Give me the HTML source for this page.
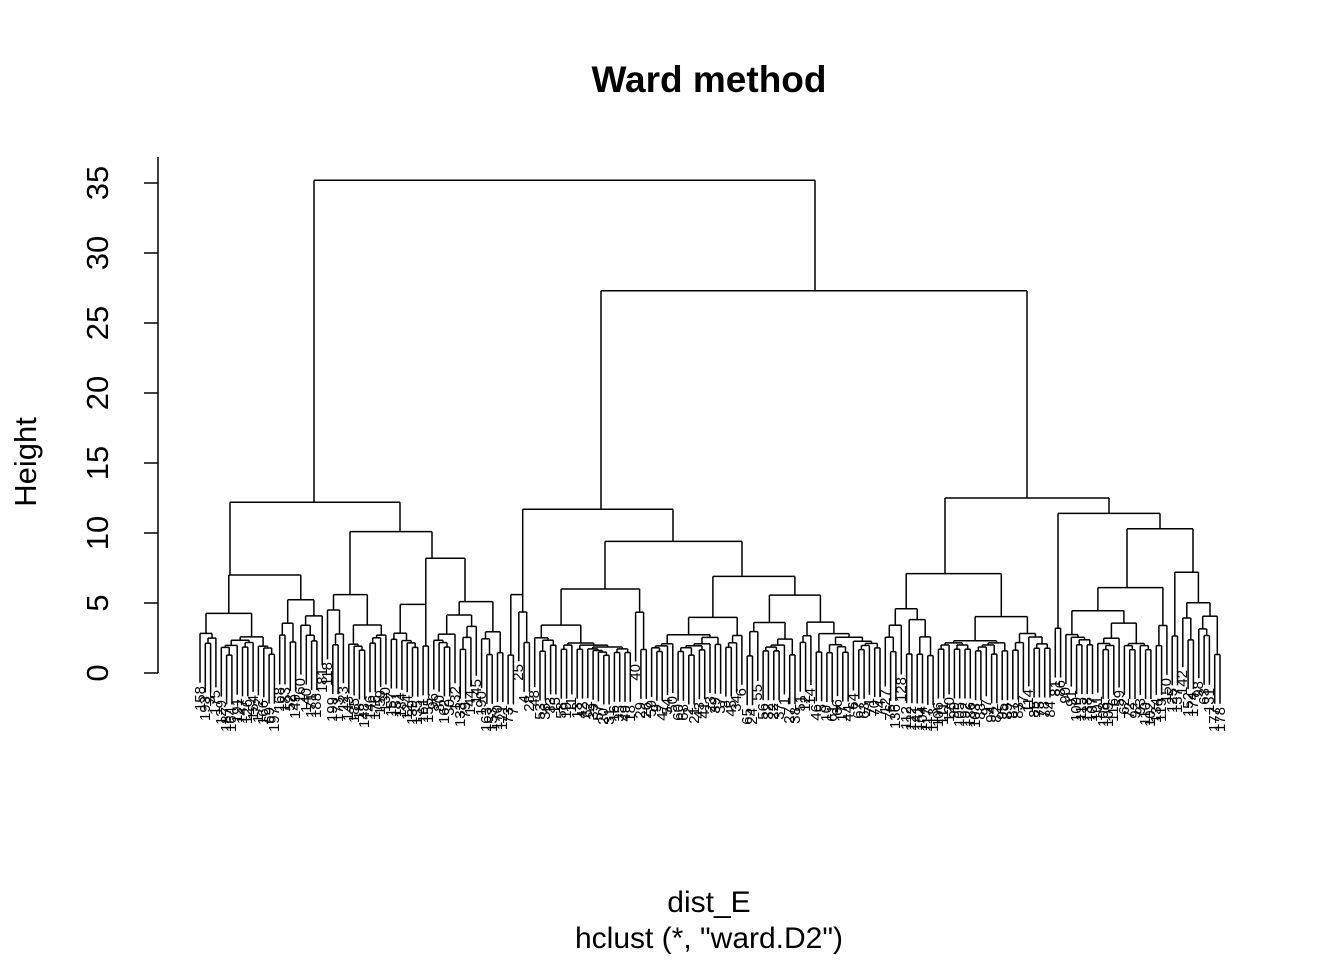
<!DOCTYPE html>
<html><head><meta charset="utf-8"><style>
html,body{margin:0;padding:0;background:#fff;}
#w{position:relative;width:1344px;height:960px;overflow:hidden;font-family:"Liberation Sans",sans-serif;}
svg{position:absolute;left:0;top:0;}
#labs span{position:absolute;font-size:15px;line-height:15px;width:15px;writing-mode:vertical-rl;transform:rotate(180deg);white-space:nowrap;color:#000;}
</style></head><body><div id="w">
<svg id="s" width="1344" height="960" xmlns="http://www.w3.org/2000/svg">
<g stroke="#000" stroke-width="1.5" fill="none">
<line x1="158" y1="673" x2="158" y2="157"/>
<line x1="144" y1="673" x2="158" y2="673"/><line x1="144" y1="603" x2="158" y2="603"/>
<line x1="144" y1="533" x2="158" y2="533"/><line x1="144" y1="463" x2="158" y2="463"/>
<line x1="144" y1="393" x2="158" y2="393"/><line x1="144" y1="323" x2="158" y2="323"/>
<line x1="144" y1="253" x2="158" y2="253"/><line x1="144" y1="183" x2="158" y2="183"/>
</g>
<g font-family="Liberation Sans, sans-serif" font-size="31" text-anchor="middle">
<text transform="translate(108,673) rotate(-90)">0</text>
<text transform="translate(108,603) rotate(-90)">5</text>
<text transform="translate(108,533) rotate(-90)">10</text>
<text transform="translate(108,463) rotate(-90)">15</text>
<text transform="translate(108,393) rotate(-90)">20</text>
<text transform="translate(108,323) rotate(-90)">25</text>
<text transform="translate(108,253) rotate(-90)">30</text>
<text transform="translate(108,183) rotate(-90)">35</text>
<text transform="translate(36,462) rotate(-90)">Height</text>
<text x="709" y="92" font-weight="bold" font-size="37">Ward method</text>
<text x="709" y="912" font-size="30">dist_E</text>
<text x="709" y="948" font-size="30">hclust (*, "ward.D2")</text>
</g>
<g id="tr" stroke="#000" stroke-width="1.5" fill="none"></g>
</svg>
<div id="labs"><span>158</span><span>193</span><span>3</span><span>175</span><span>129</span><span>187</span><span>164</span><span>191</span><span>147</span><span>126</span><span>154</span><span>172</span><span>166</span><span>69</span><span>197</span><span>168</span><span>183</span><span>52</span><span>149</span><span>160</span><span>140</span><span>171</span><span>188</span><span>181</span><span>118</span><span>199</span><span>173</span><span>123</span><span>143</span><span>185</span><span>18</span><span>148</span><span>146</span><span>176</span><span>159</span><span>130</span><span>157</span><span>151</span><span>184</span><span>124</span><span>139</span><span>135</span><span>161</span><span>155</span><span>96</span><span>80</span><span>162</span><span>30</span><span>132</span><span>133</span><span>79</span><span>144</span><span>145</span><span>190</span><span>163</span><span>153</span><span>170</span><span>121</span><span>73</span><span>7</span><span>25</span><span>4</span><span>28</span><span>48</span><span>53</span><span>36</span><span>33</span><span>15</span><span>58</span><span>19</span><span>11</span><span>13</span><span>42</span><span>62</span><span>39</span><span>57</span><span>20</span><span>31</span><span>16</span><span>35</span><span>49</span><span>18</span><span>40</span><span>29</span><span>26</span><span>59</span><span>9</span><span>47</span><span>54</span><span>50</span><span>60</span><span>68</span><span>2</span><span>21</span><span>43</span><span>41</span><span>23</span><span>39</span><span>37</span><span>8</span><span>45</span><span>34</span><span>6</span><span>65</span><span>24</span><span>55</span><span>56</span><span>32</span><span>22</span><span>37</span><span>1</span><span>27</span><span>38</span><span>51</span><span>12</span><span>14</span><span>46</span><span>5</span><span>10</span><span>61</span><span>66</span><span>17</span><span>44</span><span>64</span><span>67</span><span>63</span><span>71</span><span>70</span><span>74</span><span>127</span><span>76</span><span>136</span><span>128</span><span>112</span><span>122</span><span>141</span><span>104</span><span>117</span><span>113</span><span>106</span><span>111</span><span>120</span><span>99</span><span>105</span><span>192</span><span>186</span><span>103</span><span>88</span><span>97</span><span>94</span><span>82</span><span>95</span><span>89</span><span>87</span><span>83</span><span>77</span><span>114</span><span>85</span><span>75</span><span>78</span><span>84</span><span>81</span><span>86</span><span>90</span><span>91</span><span>100</span><span>115</span><span>138</span><span>107</span><span>101</span><span>108</span><span>109</span><span>116</span><span>59</span><span>62</span><span>72</span><span>92</span><span>93</span><span>110</span><span>102</span><span>134</span><span>119</span><span>150</span><span>125</span><span>137</span><span>142</span><span>152</span><span>174</span><span>98</span><span>63</span><span>131</span><span>177</span><span>178</span><span>179</span><span>180</span></div>
</div>
<script>
(function(){
var seed=777;function rnd(){seed|=0;seed=seed+0x6D2B79F5|0;var t=Math.imul(seed^seed>>>15,1|seed);t=t+Math.imul(t^t>>>7,61|t)^t;return((t^t>>>14)>>>0)/4294967296;}
function N(h,l,r,px){return{h:h,l:l,r:r,px:px};}
function G(n,h,px){
  if(n==1)return{leaf:1};
  var k=n==2?1:Math.max(1,Math.min(n-1,Math.round(n*(0.15+0.7*rnd()))));
  function ch(m){if(m==1)return{leaf:1};var hh;if(m==2)hh=Math.min(h*0.85,1.2+rnd()*1.6);else hh=Math.min(h*0.93,Math.max(1.9+rnd()*0.8,h*(0.55+0.3*rnd())));return G(m,hh);}
  var o=N(h,ch(k),ch(n-k));o.px=px;return o;
}
var root=N(35.2,
 N(12.2,G(24,7.0,230),N(10.1,G(12,5.6,350),N(8.2,G(8,4.9,432),G(14,5.1,465),432),400),314),
 N(27.3,N(11.7,G(5,5.6,529),N(9.4,G(22,6.0,605),G(44,6.9,742),673),601),N(12.5,G(32,7.1,945),N(11.4,G(2,3.2,1058),N(10.3,G(20,6.1,1127),G(10,7.2,1193),1160),1109),1027),815));
var Y=function(v){return 673-v*14;};
var idx=0,sp=(1220-200)/192,leaves=[];
function lay(n){if(n.leaf){n.x=200+idx*sp;idx++;leaves.push(n);return;}lay(n.l);lay(n.r);n.x=(n.l.x+n.r.x)/2;
 if(n.px!==undefined){n.x=Math.max(n.l.x,Math.min(n.r.x,n.px));}}
lay(root);
var g=document.getElementById('tr'),out='';
function line(a,b,c,d){out+='<line x1="'+a.toFixed(1)+'" y1="'+b.toFixed(1)+'" x2="'+c.toFixed(1)+'" y2="'+d.toFixed(1)+'"/>';}
function draw(n){if(n.leaf)return;var y=Y(n.h);
 [n.l,n.r].forEach(function(c){var cy;if(c.leaf){c.end=n.h-3.52;cy=Y(c.end);}else{cy=Y(c.h);draw(c);}line(c.x,cy,c.x,y);});
 line(n.l.x,y,n.r.x,y);}
draw(root);g.innerHTML=out;
var sps=document.querySelectorAll('#labs span');
for(var i=0;i<sps.length;i++){if(i>=leaves.length){sps[i].style.display='none';continue;}var L=leaves[i];sps[i].style.left=(L.x-7.5)+'px';sps[i].style.top=(Y(L.end)+3)+'px';}
})();
</script>
</body></html>
